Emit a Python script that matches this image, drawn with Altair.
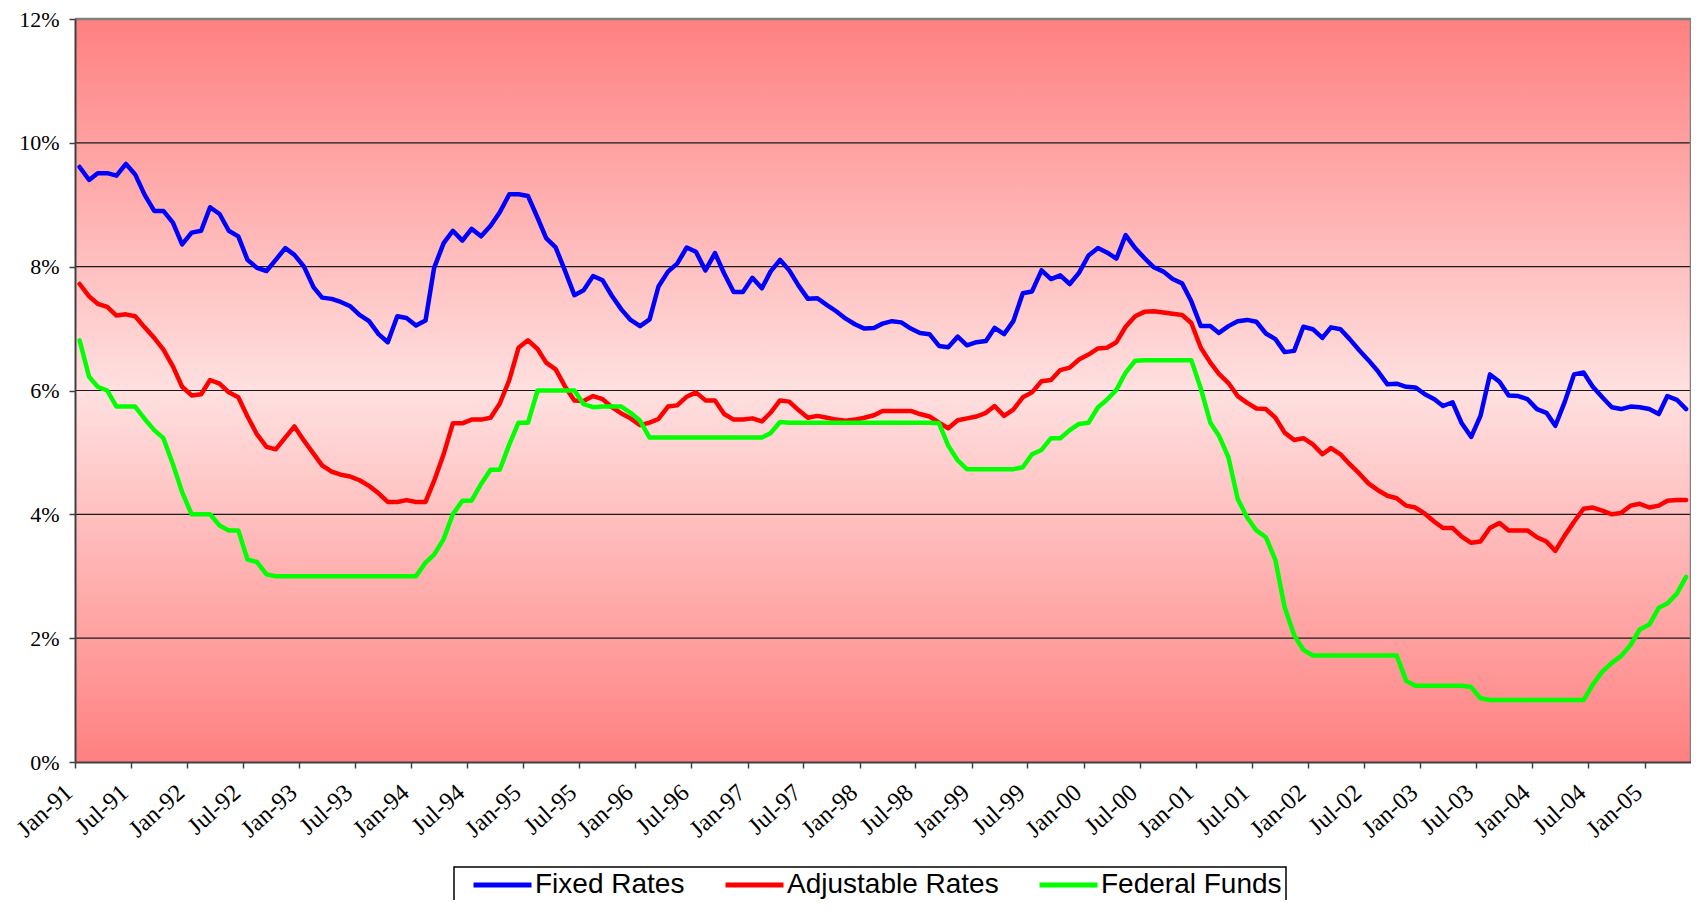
import altair as alt
import pandas as pd

# ---------------- data (monthly, Jan-1991 .. May-2005) ----------------
start_month = "1991-01-01"

fixed_rates = [
    9.61, 9.40, 9.51, 9.51, 9.47, 9.66, 9.49, 9.16, 8.90, 8.90,
    8.71, 8.36, 8.55, 8.58, 8.96, 8.85, 8.58, 8.49, 8.11, 7.98,
    7.93, 8.11, 8.30, 8.19, 8.00, 7.67, 7.50, 7.48,
    7.43, 7.36, 7.22, 7.12, 6.91, 6.78, 7.20, 7.17, 7.05, 7.13,
    7.98, 8.38, 8.58, 8.42, 8.61, 8.49, 8.66, 8.88, 9.17, 9.17,
    9.14, 8.79, 8.46, 8.31, 7.94, 7.54, 7.62, 7.85,
    7.78, 7.53, 7.31, 7.14, 7.04, 7.15, 7.68, 7.92, 8.05, 8.31,
    8.24, 7.94, 8.22, 7.89, 7.59, 7.59, 7.82, 7.65, 7.92, 8.11,
    7.94, 7.69, 7.48, 7.49,
    7.38, 7.28, 7.16, 7.07, 7.00, 7.01, 7.08, 7.12, 7.10, 7.00,
    6.93, 6.91, 6.72, 6.70, 6.87, 6.73, 6.78, 6.80, 7.01, 6.91, 7.12,
    7.57, 7.60, 7.94, 7.80, 7.86, 7.72, 7.90, 8.18, 8.30, 8.23,
    8.13, 8.51, 8.30, 8.14, 7.99, 7.92, 7.80, 7.73, 7.44,
    7.04, 7.04, 6.93, 7.04, 7.12, 7.14, 7.11, 6.92, 6.83, 6.62,
    6.64, 7.03, 6.99, 6.85, 7.02, 6.99, 6.83, 6.65, 6.49, 6.31,
    6.10, 6.11, 6.06, 6.05, 5.94, 5.86, 5.75, 5.81, 5.47, 5.25,
    5.59, 6.26, 6.14, 5.92, 5.91, 5.86, 5.70, 5.64, 5.43, 5.82,
    6.26, 6.29, 6.06, 5.89, 5.73, 5.70, 5.74, 5.73, 5.70, 5.62,
    5.91, 5.85, 5.70,
]

adjustable_rates = [
    7.72, 7.52, 7.40, 7.35, 7.21, 7.23, 7.20, 7.02, 6.85, 6.66,
    6.39, 6.06, 5.92, 5.94, 6.17, 6.11, 5.97, 5.89, 5.58, 5.29,
    5.09, 5.05, 5.24, 5.42, 5.19, 4.98, 4.79, 4.69, 4.64, 4.61,
    4.55, 4.46, 4.34, 4.20, 4.20, 4.23, 4.20, 4.20, 4.54, 4.97,
    5.47, 5.47, 5.53, 5.53, 5.56, 5.79, 6.17, 6.69, 6.81, 6.67,
    6.45, 6.34, 6.07, 5.84, 5.83, 5.91,
    5.86, 5.73, 5.63, 5.55, 5.44, 5.48, 5.54, 5.74, 5.76, 5.90,
    5.97, 5.84, 5.84, 5.62, 5.53, 5.53, 5.55, 5.50, 5.64, 5.84,
    5.82, 5.68, 5.56, 5.59, 5.56, 5.53, 5.51, 5.53, 5.56, 5.60,
    5.67, 5.67, 5.67, 5.67, 5.62, 5.58, 5.48, 5.39, 5.52, 5.55,
    5.58, 5.64, 5.75, 5.59, 5.69, 5.89, 5.97, 6.15, 6.17, 6.33,
    6.37, 6.50, 6.58, 6.68, 6.69, 6.78, 7.03, 7.20, 7.27, 7.28,
    7.26, 7.24, 7.22, 7.09,
    6.69, 6.45, 6.27, 6.12, 5.91, 5.80, 5.71, 5.70, 5.56, 5.32,
    5.20, 5.23, 5.13, 4.97, 5.07, 4.97, 4.81, 4.66, 4.50, 4.39,
    4.30, 4.26, 4.14, 4.11, 4.01, 3.88, 3.78, 3.78, 3.64, 3.54,
    3.56, 3.78, 3.86, 3.74, 3.74, 3.74, 3.63, 3.56, 3.41, 3.66,
    3.88, 4.09, 4.11, 4.06, 4.00, 4.02, 4.14, 4.17, 4.11, 4.14,
    4.22, 4.23, 4.23,
]

federal_funds = [
    6.81, 6.22, 6.06, 6.00, 5.74, 5.74, 5.74, 5.54, 5.36, 5.23,
    4.81, 4.36, 4.00, 4.00, 4.00, 3.82, 3.74, 3.74, 3.27, 3.23,
    3.03, 3.00,
    3.00, 3.00, 3.00, 3.00, 3.00, 3.00, 3.00, 3.00, 3.00, 3.00,
    3.00, 3.00, 3.00, 3.00, 3.00,
    3.22, 3.35, 3.60, 4.00, 4.22, 4.22, 4.49, 4.72, 4.72, 5.13,
    5.48, 5.48, 6.00, 6.00, 6.00, 6.00, 6.00, 5.78, 5.73,
    5.74, 5.74, 5.74, 5.64, 5.51, 5.24,
    5.24, 5.24, 5.24, 5.24, 5.24, 5.24, 5.24, 5.24, 5.24, 5.24,
    5.24, 5.24,
    5.31, 5.49,
    5.48, 5.48, 5.48, 5.48, 5.48, 5.48, 5.48, 5.48, 5.48, 5.48,
    5.48, 5.48, 5.48, 5.48, 5.48, 5.48, 5.47,
    5.11, 4.87, 4.73,
    4.73, 4.73, 4.73, 4.73, 4.73,
    4.76, 4.97, 5.04, 5.23, 5.23, 5.36, 5.46, 5.48, 5.73, 5.85,
    6.01, 6.29, 6.48,
    6.49, 6.49, 6.49, 6.49, 6.49, 6.49,
    6.03, 5.48, 5.27, 4.92, 4.25, 3.95, 3.74, 3.63, 3.26, 2.50,
    2.05, 1.81,
    1.72, 1.72, 1.72, 1.72, 1.72, 1.72, 1.72, 1.72, 1.72, 1.72,
    1.31,
    1.23, 1.23, 1.23, 1.23, 1.23, 1.23,
    1.21, 1.03,
    1.00, 1.00, 1.00, 1.00, 1.00, 1.00, 1.00, 1.00, 1.00, 1.00, 1.00,
    1.25, 1.46, 1.60, 1.71, 1.89, 2.14, 2.22, 2.49, 2.56, 2.72, 2.99,
]

series_names = ["Fixed Rates", "Adjustable Rates", "Federal Funds"]
series_colors = ["#0000FF", "#FF0000", "#00FF00"]
y_tick_values = [0, 2, 4, 6, 8, 10, 12]
grid_values = [2, 4, 6, 8, 10]
tick_years = list(range(1991, 2006))
tick_months = [1, 7]

# ---------------- tables ----------------
n = len(fixed_rates)
months = pd.date_range(start_month, periods=n, freq="MS")
mid_month = months + pd.Timedelta(days=15)
frames = []
for name, vals in zip(series_names, [fixed_rates, adjustable_rates, federal_funds]):
    frames.append(pd.DataFrame({"date": mid_month[: len(vals)], "rate": vals, "series": name}))
df = pd.concat(frames, ignore_index=True)

x_start = months[0]
x_end = months[-1] + pd.offsets.MonthBegin(1)

x_scale = alt.Scale(
    domain=[
        alt.DateTime(year=int(x_start.year), month=int(x_start.month), date=1),
        alt.DateTime(year=int(x_end.year), month=int(x_end.month), date=1),
    ],
    nice=False,
)
y_scale = alt.Scale(domain=[0, 12], nice=False)

tick_dates = [
    alt.DateTime(year=y, month=m, date=1)
    for y in tick_years
    for m in tick_months
    if pd.Timestamp(year=y, month=m, day=1) <= x_end - pd.Timedelta(days=1)
]

x_axis = alt.Axis(
    values=tick_dates, format="%b-%y", title=None, grid=False,
    labelAngle=-42, labelAlign="right", labelBaseline="middle",
    labelFont="Liberation Serif", labelFontSize=24.5, labelColor="black",
    labelPadding=21, labelOffset=-6, labelOverlap=False, labelFlush=False,
    tickSize=6, tickColor="#404040", tickWidth=1.5,
    domainColor="#404040", domainWidth=2, zindex=1,
)
y_axis = alt.Axis(
    values=y_tick_values, labelExpr="datum.value + '%'", title=None, grid=False,
    labelFont="Liberation Serif", labelFontSize=22, labelColor="black",
    labelPadding=10, tickSize=6, tickColor="#404040", tickWidth=1.5,
    domainColor="#404040", domainWidth=2, zindex=1,
)

gradient = alt.LinearGradient(
    gradient="linear", x1=0, y1=0, x2=0, y2=1,
    stops=[
        alt.GradientStop(offset=0, color="#FF8080"),
        alt.GradientStop(offset=0.5, color="#FFE0E0"),
        alt.GradientStop(offset=1, color="#FF8080"),
    ],
)

bg_df = pd.DataFrame({"x0": [x_start], "x1": [x_end], "y0": [0], "y1": [12]})
background = alt.Chart(bg_df).mark_rect(fill=gradient).encode(
    x=alt.X("x0:T", scale=x_scale, axis=x_axis),
    x2="x1:T",
    y=alt.Y("y0:Q", scale=y_scale, axis=y_axis),
    y2="y1:Q",
)

grid = alt.Chart(pd.DataFrame({"g": grid_values})).mark_rule(
    color="#1a1a1a", strokeWidth=1.2
).encode(y=alt.Y("g:Q", scale=y_scale, axis=y_axis))

top_border = alt.Chart(pd.DataFrame({"g": [y_tick_values[-1]]})).mark_rule(
    color="#808080", strokeWidth=2.5
).encode(y=alt.Y("g:Q", scale=y_scale, axis=y_axis))

right_border = alt.Chart(pd.DataFrame({"xe": [x_end]})).mark_rule(
    color="#808080", strokeWidth=2.5
).encode(x=alt.X("xe:T", scale=x_scale, axis=x_axis))

legend = alt.Legend(
    title=None, orient="none", legendX=379, legendY=848, direction="horizontal",
    symbolType="stroke", symbolSize=3364, symbolStrokeWidth=5, symbolOffset=13,
    labelFont="Liberation Sans", labelFontSize=28, labelColor="black",
    labelOffset=1, labelLimit=600, columnPadding=25, clipHeight=28,
    padding=4, strokeColor="black", fillColor="white",
)

lines = alt.Chart(df).mark_line(strokeWidth=4.5, strokeJoin="round", strokeCap="round").encode(
    x=alt.X("date:T", scale=x_scale, axis=x_axis),
    y=alt.Y("rate:Q", scale=y_scale, axis=y_axis),
    color=alt.Color("series:N", scale=alt.Scale(domain=series_names, range=series_colors),
                    sort=series_names, legend=legend),
)

chart = alt.layer(background, grid, top_border, right_border, lines).properties(
    width=1616, height=743,
    autosize=alt.AutoSizeParams(type="none"),
    padding={"left": 67, "top": 11, "right": 0, "bottom": 138},
    background="white",
).configure_view(strokeWidth=0).configure_legend(strokeWidth=1.5)

chart.save("out.html", embed_options={"renderer": "svg", "actions": False})
